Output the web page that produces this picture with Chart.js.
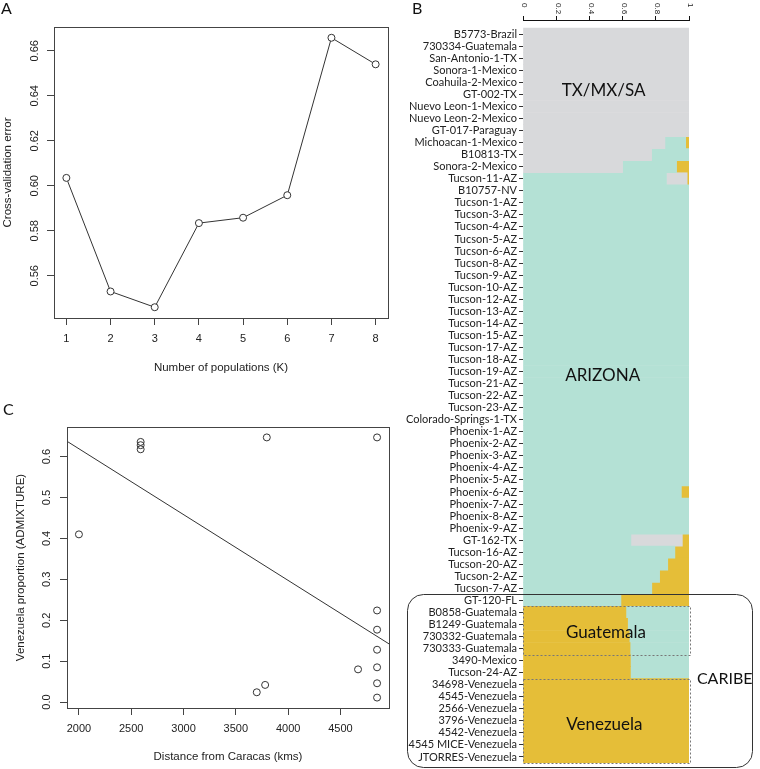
<!DOCTYPE html>
<html>
<head>
<meta charset="utf-8">
<title>ADMIXTURE: K, ancestry bars, Venezuela proportion vs distance</title>
<script src="https://cdn.jsdelivr.net/npm/chart.js@4.4.1/dist/chart.umd.min.js"></script>
<style>
  html, body { margin: 0; padding: 0; background: #fff; }
  #wrap { position: relative; width: 760px; height: 769px; overflow: hidden; }
  canvas { position: absolute; }
  .tag { position: absolute; font-family: Lato, sans-serif; font-size: 16px; line-height: 16px; color: #111; }
</style>
</head>
<body>
<div id="wrap">
  <canvas id="cvA" width="400" height="385" style="left:0;top:0"></canvas>
  <canvas id="cvC" width="400" height="384" style="left:0;top:385px"></canvas>
  <canvas id="cvB" width="360" height="769" style="left:400px;top:0"></canvas>
  <div class="tag" style="left:1px;top:0px">A</div>
  <div class="tag" style="left:412px;top:0px">B</div>
  <div class="tag" style="left:3px;top:401px">C</div>
</div>
<script>
// panel A - cross-validation error for each K
const kValues = [1, 2, 3, 4, 5, 6, 7, 8];
const cvError = [0.6035, 0.5530, 0.5460, 0.5834, 0.5858, 0.5958, 0.6658, 0.6540];
const cvTicks = [0.56, 0.58, 0.60, 0.62, 0.64, 0.66];

// panel C - Venezuela proportion against distance from Caracas
const distCaracas = [2000, 2590, 2590, 2590, 3796, 3780, 3700, 4668, 4850, 4850, 4850, 4850, 4850, 4850, 4850];
const venezuelaProp = [0.410, 0.636, 0.628, 0.618, 0.647, 0.042, 0.024, 0.080, 0.647, 0.224, 0.177, 0.128, 0.085, 0.046, 0.011];
const fitCoef = [0.941, -0.0001609]; // intercept, slope of the drawn regression line
const distTicks = [2000, 2500, 3000, 3500, 4000, 4500];
const propTicks = [0, 0.1, 0.2, 0.3, 0.4, 0.5, 0.6];

// panel B - ADMIXTURE ancestry proportions (K = 3)
const samples = [
  'B5773-Brazil', '730334-Guatemala', 'San-Antonio-1-TX', 'Sonora-1-Mexico', 'Coahuila-2-Mexico',
  'GT-002-TX', 'Nuevo Leon-1-Mexico', 'Nuevo Leon-2-Mexico', 'GT-017-Paraguay', 'Michoacan-1-Mexico',
  'B10813-TX', 'Sonora-2-Mexico', 'Tucson-11-AZ', 'B10757-NV', 'Tucson-1-AZ',
  'Tucson-3-AZ', 'Tucson-4-AZ', 'Tucson-5-AZ', 'Tucson-6-AZ', 'Tucson-8-AZ',
  'Tucson-9-AZ', 'Tucson-10-AZ', 'Tucson-12-AZ', 'Tucson-13-AZ', 'Tucson-14-AZ',
  'Tucson-15-AZ', 'Tucson-17-AZ', 'Tucson-18-AZ', 'Tucson-19-AZ', 'Tucson-21-AZ',
  'Tucson-22-AZ', 'Tucson-23-AZ', 'Colorado-Springs-1-TX', 'Phoenix-1-AZ', 'Phoenix-2-AZ',
  'Phoenix-3-AZ', 'Phoenix-4-AZ', 'Phoenix-5-AZ', 'Phoenix-6-AZ', 'Phoenix-7-AZ',
  'Phoenix-8-AZ', 'Phoenix-9-AZ', 'GT-162-TX', 'Tucson-16-AZ', 'Tucson-20-AZ',
  'Tucson-2-AZ', 'Tucson-7-AZ', 'GT-120-FL', 'B0858-Guatemala', 'B1249-Guatemala',
  '730332-Guatemala', '730333-Guatemala', '3490-Mexico', 'Tucson-24-AZ', '34698-Venezuela',
  '4545-Venezuela', '2566-Venezuela', '3796-Venezuela', '4542-Venezuela', '4545 MICE-Venezuela',
  'JTORRES-Venezuela'
];
const qTxMxSa = [
  1, 1, 1, 1, 1, 1, 1, 1, 1, 0.855,
  0.775, 0.60, 0.125, 0, 0, 0, 0, 0, 0, 0,
  0, 0, 0, 0, 0, 0, 0, 0, 0, 0,
  0, 0, 0, 0, 0, 0, 0, 0, 0, 0,
  0, 0, 0.31, 0, 0, 0, 0, 0, 0, 0,
  0, 0, 0, 0, 0, 0, 0, 0, 0, 0,
  0
];
const qArizona = [
  0, 0, 0, 0, 0, 0, 0, 0, 0, 0.125,
  0.225, 0.325, 0.864, 1, 1, 1, 1, 1, 1, 1,
  1, 1, 1, 1, 1, 1, 1, 1, 1, 1,
  1, 1, 1, 1, 1, 1, 1, 1, 0.954, 1,
  1, 1, 0.65, 0.915, 0.872, 0.823, 0.776, 0.59, 0.38, 0.37,
  0.36, 0.355, 0.353, 0.353, 0, 0, 0, 0, 0, 0,
  0
];
const qCaribe = [
  0, 0, 0, 0, 0, 0, 0, 0, 0, 0.02,
  0, 0.075, 0.011, 0, 0, 0, 0, 0, 0, 0,
  0, 0, 0, 0, 0, 0, 0, 0, 0, 0,
  0, 0, 0, 0, 0, 0, 0, 0, 0.046, 0,
  0, 0, 0.04, 0.085, 0.128, 0.177, 0.224, 0.41, 0.62, 0.63,
  0.64, 0.645, 0.647, 0.647, 1, 1, 1, 1, 1, 1,
  1
];
const firstArizonaRow = 12;  // from here the grey part sits right of the teal
const firstCaribeRow = 48;   // from here the gold part sits on the left
const ancestryTicks = [0, 0.2, 0.4, 0.6, 0.8, 1];

const GREY = '#d8d9db', TEAL = '#b4e1d5', GOLD = '#e5be38';
const rFont = "'Liberation Sans', Arial, sans-serif";
const calFont = "Lato, 'Open Sans', sans-serif";

// R pads an axis 4% on both ends
function rRange(v) {
  const lo = Math.min(...v), hi = Math.max(...v), p = (hi - lo) * 0.04;
  return [lo - p, hi + p];
}

const boxPlugin = {
  id: 'rbox',
  afterDraw(chart) {
    const a = chart.chartArea, ctx = chart.ctx;
    ctx.save();
    ctx.strokeStyle = '#444';
    ctx.lineWidth = 1;
    ctx.strokeRect(Math.round(a.left) + 0.5, Math.round(a.top) + 0.5,
      Math.round(a.right - a.left), Math.round(a.bottom - a.top));
    ctx.restore();
  }
};

function rAxis(o) {
  return {
    type: 'linear',
    min: o.range[0], max: o.range[1],
    afterBuildTicks: s => { s.ticks = o.ticks.map(v => ({ value: v })); },
    afterFit: o.fit,
    border: { display: false },
    grid: { drawOnChartArea: false, tickLength: 7, color: '#444' },
    ticks: Object.assign({
      font: { family: rFont, size: 11 }, color: '#222', autoSkip: false,
      callback: o.fmt
    }, o.tickOpts),
    title: { display: true, text: o.title, color: '#222', font: { family: rFont, size: 11.5 }, padding: o.titlePad }
  };
}

const common = {
  responsive: false, animation: false, events: [],
  plugins: { legend: { display: false }, tooltip: { enabled: false } }
};

// ---------- A
const kRange = rRange(kValues), cvRange = rRange(cvError);
new Chart(document.getElementById('cvA'), {
  type: 'line',
  data: {
    datasets: [{
      data: kValues.map((k, i) => ({ x: k, y: cvError[i] })),
      borderColor: '#333', borderWidth: 1,
      pointRadius: 3.5, pointBorderWidth: 1, pointBorderColor: '#333', pointBackgroundColor: '#fff'
    }]
  },
  options: Object.assign({}, common, {
    layout: { padding: { top: 27, right: 12, left: 0, bottom: 0 } },
    scales: {
      x: rAxis({ range: kRange, ticks: kValues, fit: s => { s.height = 67; }, fmt: v => String(v),
        tickOpts: { padding: 7, maxRotation: 0 }, title: 'Number of populations (K)', titlePad: { top: 0, bottom: 10 } }),
      y: rAxis({ range: cvRange, ticks: cvTicks, fit: s => { s.width = 54; }, fmt: v => v.toFixed(2),
        tickOpts: { padding: 1, minRotation: 90, maxRotation: 90, crossAlign: 'center' },
        title: 'Cross-validation error', titlePad: { top: 1, bottom: 0 } })
    }
  }),
  plugins: [boxPlugin]
});

// ---------- C
const dRange = rRange(distCaracas), pRange = rRange(venezuelaProp);
new Chart(document.getElementById('cvC'), {
  type: 'scatter',
  data: {
    datasets: [{
      data: distCaracas.map((d, i) => ({ x: d, y: venezuelaProp[i] })),
      pointRadius: 3.5, borderWidth: 1, borderColor: '#333', backgroundColor: 'rgba(0,0,0,0)'
    }, {
      data: dRange.map(d => ({ x: d, y: fitCoef[0] + fitCoef[1] * d })),
      showLine: true, pointRadius: 0, borderColor: '#333', borderWidth: 1
    }]
  },
  options: Object.assign({}, common, {
    layout: { padding: { top: 42, right: 11, left: 0, bottom: 0 } },
    scales: {
      x: rAxis({ range: dRange, ticks: distTicks, fit: s => { s.height = 61; }, fmt: v => String(v),
        tickOpts: { padding: 7, maxRotation: 0 }, title: 'Distance from Caracas (kms)', titlePad: { top: 0, bottom: 5 } }),
      y: rAxis({ range: pRange, ticks: propTicks, fit: s => { s.width = 67; }, fmt: v => v.toFixed(1),
        tickOpts: { padding: 5, minRotation: 90, maxRotation: 90, crossAlign: 'center' },
        title: 'Venezuela proportion (ADMIXTURE)', titlePad: { top: 14, bottom: 0 } })
    }
  }),
  plugins: [boxPlugin]
});

// ---------- B
const regionNotes = [
  { text: 'TX/MX/SA', x: 0.486, row: 4.65, size: 17 },
  { text: 'ARIZONA', x: 0.48, row: 28.3, size: 17 },
  { text: 'Guatemala', x: 0.5, row: 49.7, size: 17 },
  { text: 'Venezuela', x: 0.49, row: 57.3, size: 17 },
  { text: 'CARIBE', x: 1.215, row: 53.5, size: 16 }
];
const dashedGroups = [[47.5, 51.5], [53.5, 60.5]];
const caribeRows = [46.5, 60.5];

const notesPlugin = {
  id: 'notes',
  afterDatasetsDraw(chart) {
    const ctx = chart.ctx, xs = chart.scales.x, ys = chart.scales.y, a = chart.chartArea;
    ctx.save();
    // dashed group boxes
    ctx.setLineDash([2, 2]);
    ctx.strokeStyle = '#777';
    ctx.lineWidth = 1;
    dashedGroups.forEach(g => {
      const y0 = Math.round(ys.getPixelForValue(g[0])) + 0.5, y1 = Math.round(ys.getPixelForValue(g[1])) + 0.5;
      const x0 = Math.round(xs.getPixelForValue(0)) + 0.5, x1 = Math.round(xs.getPixelForValue(1)) + 1.5;
      ctx.strokeRect(x0, y0, x1 - x0, y1 - y0);
    });
    ctx.setLineDash([]);
    // rounded CARIBE frame
    const L = a.left - 116 + 0.5, R = a.right + 63 + 0.5;
    const T = Math.round(ys.getPixelForValue(caribeRows[0])) + 0.5, B = Math.round(ys.getPixelForValue(caribeRows[1])) + 4.5;
    ctx.strokeStyle = '#333';
    ctx.beginPath();
    ctx.roundRect(L, T, R - L, B - T, 16);
    ctx.stroke();
    // region names
    ctx.fillStyle = '#111';
    ctx.textAlign = 'center';
    ctx.textBaseline = 'middle';
    regionNotes.forEach(n => {
      ctx.font = n.size + 'px ' + calFont;
      ctx.fillText(n.text, xs.getPixelForValue(n.x), ys.getPixelForValue(n.row));
    });
    ctx.restore();
  }
};

function segment(arr, keep) {
  return arr.map((v, i) => ({ x: keep(i) && v > 0 ? v : null, y: i }));
}

new Chart(document.getElementById('cvB'), {
  type: 'bar',
  data: {
    datasets: [
      { label: 'Caribe', data: segment(qCaribe, i => i >= firstCaribeRow), backgroundColor: GOLD },
      { label: 'TX/MX/SA', data: segment(qTxMxSa, i => i < firstArizonaRow), backgroundColor: GREY },
      { label: 'Arizona', data: segment(qArizona, () => true), backgroundColor: TEAL },
      { label: 'TX/MX/SA', data: segment(qTxMxSa, i => i >= firstArizonaRow), backgroundColor: GREY },
      { label: 'Caribe', data: segment(qCaribe, i => i < firstCaribeRow), backgroundColor: GOLD }
    ]
  },
  options: Object.assign({}, common, {
    indexAxis: 'y',
    barPercentage: 1, categoryPercentage: 1,
    borderWidth: 0,
    layout: { padding: { top: 0, right: 71, left: 0, bottom: 6 } },
    scales: {
      x: {
        type: 'linear', position: 'top', stacked: true, min: 0, max: 1,
        afterBuildTicks: s => { s.ticks = ancestryTicks.map(v => ({ value: v })); },
        afterFit: s => { s.height = 20; s.paddingLeft = 0; s.paddingRight = 0; s.paddingTop = 0; s.paddingBottom = 0; },
        border: { display: true, color: '#111', width: 1 },
        grid: { drawOnChartArea: false, tickLength: 4, color: '#111' },
        ticks: { minRotation: -90, maxRotation: -90, padding: 13, labelOffset: -8, color: '#222',
          font: { family: rFont, size: 8 }, callback: v => String(v) }
      },
      y: {
        type: 'linear', reverse: true, stacked: true, offset: false, min: -1.18, max: 60.5,
        afterBuildTicks: s => { s.ticks = samples.map((_, i) => ({ value: i })); },
        afterFit: s => { s.width = 123; s.paddingTop = 0; s.paddingBottom = 0; s.paddingLeft = 0; s.paddingRight = 0; },
        border: { display: false },
        grid: { offset: false, drawOnChartArea: false, tickLength: 4, color: '#333' },
        ticks: { autoSkip: false, padding: 2, color: '#222', font: { family: calFont, size: 11 },
          callback: v => samples[v] }
      }
    }
  }),
  plugins: [notesPlugin]
});
</script>
</body>
</html>
